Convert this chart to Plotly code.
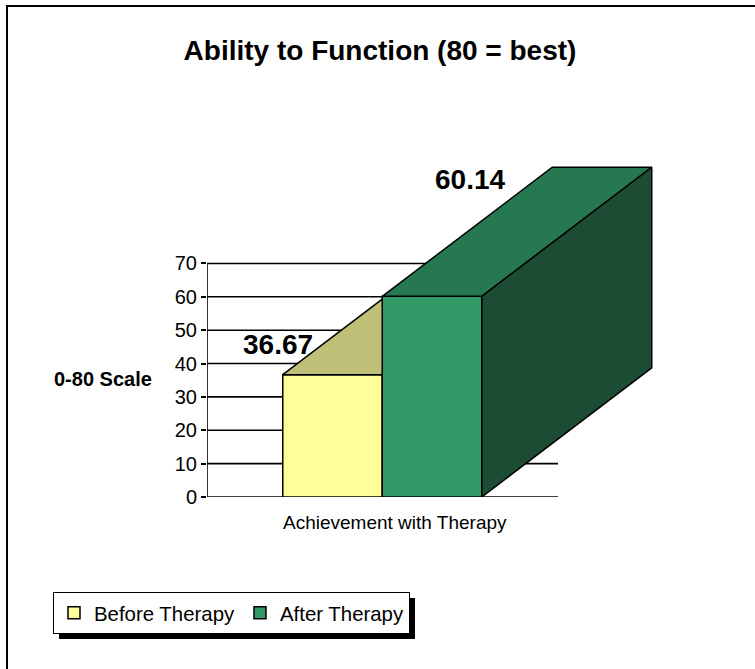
import plotly.graph_objects as go

# ---------------- data ----------------
series_names = ["Before Therapy", "After Therapy"]
series_values = [36.67, 60.14]
category = "Achievement with Therapy"
tick_values = [0, 10, 20, 30, 40, 50, 60, 70]
tick_labels = ["0", "10", "20", "30", "40", "50", "60", "70"]

# ---------------- styling / geometry ----------------
front_colors = ["#FFFF99", "#339966"]
top_colors = ["#BFBF77", "#267850"]
side_colors = ["#7F7F4C", "#1C4C34"]
bar_centers = [1.255, 2.25]
bar_width = 0.995
depth_dx = 1.70
depth_dy = 38.7
grid_end = 3.51
label_dx = [-0.045, 0.88]
label_dy = [8.9, 34.9]
FONT = "Liberation Sans, Arial, sans-serif"

W, H = 755, 669
ML, MR, MT, MB = 207, 88, 130, 172
XR = [0, 4.6]
YR = [0, 110]
PW = W - ML - MR
PH = H - MT - MB


def px_to_paper(px, py):
    return (px - ML) / PW, (H - MB - py) / PH


fig = go.Figure()

# front faces as bars
for name, v, c, xc in zip(series_names, series_values, front_colors, bar_centers):
    fig.add_trace(go.Bar(
        x=[xc], y=[v], width=[bar_width], name=name,
        marker=dict(color=c, line=dict(color="black", width=1.5)),
        hoverinfo="skip",
    ))

# 3D faces
lefts = [xc - bar_width / 2 for xc in bar_centers]
rights = [xc + bar_width / 2 for xc in bar_centers]
for i, v in enumerate(series_values):
    l, r = lefts[i], rights[i]
    if i < len(series_values) - 1:
        # visible part of the top face, clipped at the next bar's front face
        clip = lefts[i + 1]
        yclip = v + (clip - l) * depth_dy / depth_dx
        xs = [l, clip, clip, l]
        ys = [v, yclip, v, v]
        fig.add_trace(go.Scatter(x=xs, y=ys, mode="lines", fill="toself",
                                 fillcolor=top_colors[i],
                                 line=dict(color="black", width=1.5),
                                 hoverinfo="skip", showlegend=False))
    else:
        # top face
        xs = [l, l + depth_dx, r + depth_dx, r, l]
        ys = [v, v + depth_dy, v + depth_dy, v, v]
        fig.add_trace(go.Scatter(x=xs, y=ys, mode="lines", fill="toself",
                                 fillcolor=top_colors[i],
                                 line=dict(color="black", width=1.5),
                                 hoverinfo="skip", showlegend=False))
        # side face
        xs = [r, r + depth_dx, r + depth_dx, r, r]
        ys = [0, depth_dy, v + depth_dy, v, 0]
        fig.add_trace(go.Scatter(x=xs, y=ys, mode="lines", fill="toself",
                                 fillcolor=side_colors[i],
                                 line=dict(color="black", width=1.5),
                                 hoverinfo="skip", showlegend=False))

shapes = []
# gridlines (behind)
for t in tick_values:
    shapes.append(dict(type="line", xref="x", yref="y", x0=0, x1=grid_end,
                       y0=t, y1=t, line=dict(color="black", width=1.6),
                       layer="below"))
# axis line
shapes.append(dict(type="line", xref="x", yref="y", x0=0, x1=0,
                   y0=tick_values[0], y1=tick_values[-1],
                   line=dict(color="black", width=1.6), layer="below"))
# legend shadow
sx0, sy0 = px_to_paper(59, 639)
sx1, sy1 = px_to_paper(415, 598)
shapes.append(dict(type="rect", xref="paper", yref="paper", x0=sx0, x1=sx1,
                   y0=sy0, y1=sy1, fillcolor="black", line=dict(width=0),
                   layer="above"))
# outer frame
fx0, fy0 = px_to_paper(7, 6)
fx1, fy1 = px_to_paper(W + 20, H + 20)
shapes.append(dict(type="rect", xref="paper", yref="paper", x0=fx0, x1=fx1,
                   y0=fy1, y1=fy0, line=dict(color="black", width=2),
                   layer="below"))

annotations = []
for i, v in enumerate(series_values):
    annotations.append(dict(x=lefts[i] + label_dx[i], y=v + label_dy[i],
                            xref="x", yref="y", text=f"<b>{v:.2f}</b>",
                            showarrow=False, xanchor="center", yanchor="middle",
                            font=dict(family=FONT, size=28, color="black")))
tx, ty = px_to_paper(395, 522)
annotations.append(dict(x=tx, y=ty, xref="paper", yref="paper",
                        text=category, showarrow=False,
                        xanchor="center", yanchor="middle",
                        font=dict(family=FONT, size=19, color="black")))
ax, ay = px_to_paper(103, 379)
annotations.append(dict(x=ax, y=ay, xref="paper", yref="paper",
                        text="<b>0-80 Scale</b>", showarrow=False,
                        xanchor="center", yanchor="middle",
                        font=dict(family=FONT, size=20, color="black")))

fig.update_layout(
    width=W, height=H,
    margin=dict(l=ML, r=MR, t=MT, b=MB, pad=0),
    paper_bgcolor="white", plot_bgcolor="white",
    barmode="overlay",
    title=dict(text="<b>Ability to Function (80 = best)</b>",
               xref="container", yref="container",
               x=380 / W, y=1 - 50 / H, xanchor="center", yanchor="middle",
               font=dict(family=FONT, size=28, color="black")),
    xaxis=dict(range=XR, visible=False, fixedrange=True),
    yaxis=dict(range=YR, tickvals=tick_values, ticktext=tick_labels,
               ticks="outside", ticklen=5, tickwidth=1.5, tickcolor="black",
               showgrid=False, zeroline=False, showline=False,
               tickfont=dict(family=FONT, size=20, color="black"),
               fixedrange=True),
    showlegend=True,
    legend=dict(orientation="h", xref="container", yref="container",
                x=53 / W, y=1 - 592 / H, xanchor="left", yanchor="top",
                bgcolor="white", bordercolor="black", borderwidth=1,
                font=dict(family=FONT, size=20.4, color="black"),
                itemwidth=30, traceorder="normal"),
    shapes=shapes,
    annotations=annotations,
)

fig.write_html("out.html", config={"displayModeBar": False},
               post_script="document.body.style.margin='0';")
